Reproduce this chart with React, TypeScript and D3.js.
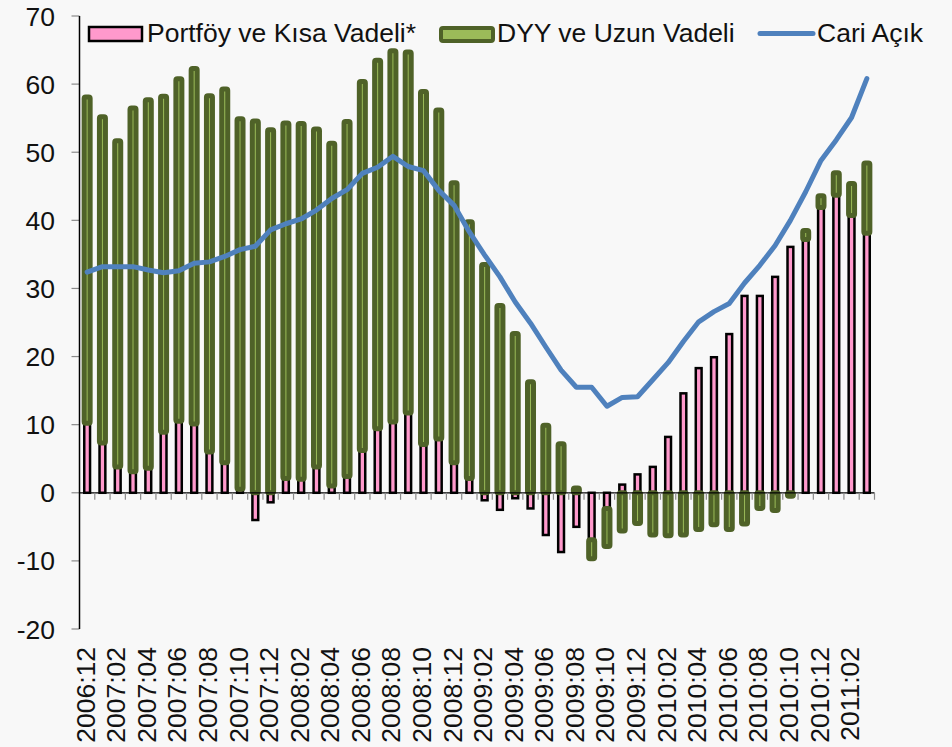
import React, { useMemo } from "react";
import * as d3 from "d3";

// months shown on the category axis (label on every second one)
const months = [
  "2006:12",
  "2007:01", "2007:02", "2007:03", "2007:04", "2007:05", "2007:06",
  "2007:07", "2007:08", "2007:09", "2007:10", "2007:11", "2007:12",
  "2008:01", "2008:02", "2008:03", "2008:04", "2008:05", "2008:06",
  "2008:07", "2008:08", "2008:09", "2008:10", "2008:11", "2008:12",
  "2009:01", "2009:02", "2009:03", "2009:04", "2009:05", "2009:06",
  "2009:07", "2009:08", "2009:09", "2009:10", "2009:11", "2009:12",
  "2010:01", "2010:02", "2010:03", "2010:04", "2010:05", "2010:06",
  "2010:07", "2010:08", "2010:09", "2010:10", "2010:11", "2010:12",
  "2011:01", "2011:02", "2011:03",
];

// Portföy ve Kısa Vadeli*
const portfoy = [
  10.2, 7.3, 3.8, 3.1, 3.6, 8.9, 10.5, 10.1, 6.0, 4.4, 0.5, -4.0, -1.4,
  2.1, 2.0, 3.8, 1.0, 2.4, 6.2, 9.4, 10.4, 11.7, 7.1, 7.9, 4.4,
  2.1, -1.1, -2.5, -0.8, -2.3, -6.2, -8.7, -5.0, -6.9, -2.3, 1.2, 2.7,
  3.8, 8.2, 14.6, 18.3, 19.9, 23.3, 28.9, 28.9, 31.7, 36.1, 37.2, 41.9,
  43.7, 40.7, 38.1,
];

// DYY ve Uzun Vadeli
const dyy = [
  47.9, 47.9, 47.9, 53.4, 54.1, 49.3, 50.3, 52.2, 52.3, 54.9, 54.4, 54.6, 53.3,
  52.2, 52.2, 49.6, 50.3, 52.1, 54.2, 54.1, 54.5, 53.0, 51.8, 48.3, 41.1,
  37.7, 33.5, 27.5, 23.4, 16.3, 9.9, 7.2, 0.7, -2.8, -5.6, -5.6, -4.5,
  -6.2, -6.3, -6.2, -5.4, -4.7, -5.4, -4.6, -2.3, -2.6, -0.5, 1.3, 1.7,
  3.3, 4.7, 10.3,
];

// Cari Açık
const cariAcik = [
  32.4, 33.2, 33.2, 33.2, 32.7, 32.3, 32.6, 33.7, 33.9, 34.7, 35.7, 36.2, 38.6,
  39.5, 40.2, 41.5, 43.2, 44.5, 46.9, 47.8, 49.4, 47.9, 47.3, 44.4, 42.2,
  38.3, 34.9, 31.7, 28.0, 24.9, 21.4, 18.0, 15.5, 15.5, 12.7, 14.0, 14.1,
  16.6, 19.1, 22.2, 25.1, 26.6, 27.8, 30.8, 33.4, 36.3, 40.0, 44.2, 48.8,
  51.8, 55.1, 60.8,
];

const yTicks = [-20, -10, 0, 10, 20, 30, 40, 50, 60, 70];

const legendLabels = ["Portföy ve Kısa Vadeli*", "DYY ve Uzun Vadeli", "Cari Açık"];

const WIDTH = 952;
const HEIGHT = 747;
const FONT = "'Liberation Sans', Arial, sans-serif";
const FS = 26.5;
const PINK = "#FF99CC";
const GREEN_LIGHT = "#9BBB59";
const GREEN_DARK = "#4F6228";
const BLUE = "#4F81BD";

interface Row {
  month: string;
  portfoy: number;
  dyy: number;
}

export default function App() {
  const margin = { left: 79.5, right: 77.5, top: 16, bottom: 118 };

  const x = useMemo(
    () =>
      d3
        .scaleBand<string>()
        .domain(months)
        .range([margin.left, WIDTH - margin.right])
        .padding(0),
    []
  );

  const y = useMemo(
    () => d3.scaleLinear().domain([-20, 70]).range([HEIGHT - margin.bottom, margin.top]),
    []
  );

  const rows: Row[] = months.map((m, i) => ({ month: m, portfoy: portfoy[i], dyy: dyy[i] }));

  const series = d3
    .stack<Row>()
    .keys(["portfoy", "dyy"])
    .offset(d3.stackOffsetDiverging)(rows);

  const line = d3
    .line<number>()
    .x((_, i) => (x(months[i]) ?? 0) + x.bandwidth() / 2)
    .y((d) => y(d));

  const bw = x.bandwidth();
  const x0 = margin.left;
  const x1 = WIDTH - margin.right;

  return (
    <svg
      width={WIDTH}
      height={HEIGHT}
      style={{ position: "absolute", left: 0, top: 0, background: "#F8F8F8" }}
      fontFamily={FONT}
    >
      <rect x={0} y={0} width={WIDTH} height={HEIGHT} fill="#F8F8F8" />

      {/* y axis ticks and labels */}
      <g>
        {yTicks.map((t) => (
          <g key={t}>
            <line x1={x0 - 8} x2={x0} y1={y(t)} y2={y(t)} stroke="#8a8a8a" strokeWidth={1.2} />
            <text x={55} y={y(t)} dy="0.36em" textAnchor="end" fontSize={FS} fill="#111">
              {t}
            </text>
          </g>
        ))}
      </g>

      {/* bars: pink first, green on top of it */}
      <g>
        {series[0].map((d, i) => (
          <rect
            key={"p" + i}
            x={(x(months[i]) ?? 0) + bw / 2 - 2.9}
            width={5.8}
            y={y(Math.max(d[0], d[1]))}
            height={Math.abs(y(d[0]) - y(d[1]))}
            fill={PINK}
            stroke="#000"
            strokeWidth={2.5}
          />
        ))}
      </g>
      <g>
        {series[1].map((d, i) => {
          const top = y(Math.max(d[0], d[1]));
          const h = Math.abs(y(d[0]) - y(d[1]));
          return (
            <rect
              key={"g" + i}
              x={(x(months[i]) ?? 0) + bw / 2 - 3}
              width={6}
              y={top}
              height={h}
              rx={1.5}
              fill={GREEN_LIGHT}
              stroke={GREEN_DARK}
              strokeWidth={5}
              strokeLinejoin="round"
            />
          );
        })}
      </g>

      {/* zero line with small category ticks */}
      <line x1={x0} x2={x1} y1={y(0)} y2={y(0)} stroke="#000" strokeWidth={1.3} />
      <g>
        {months.map((m, i) => (
          <line
            key={"t" + i}
            x1={(x(m) ?? 0) + bw}
            x2={(x(m) ?? 0) + bw}
            y1={y(0)}
            y2={y(0) + 7}
            stroke="#8a8a8a"
            strokeWidth={1.2}
          />
        ))}
      </g>

      {/* y axis line */}
      <line x1={x0} x2={x0} y1={y(70)} y2={y(-20)} stroke="#000" strokeWidth={1.5} />

      {/* current account line */}
      <path
        d={line(cariAcik) || ""}
        fill="none"
        stroke={BLUE}
        strokeWidth={5}
        strokeLinejoin="round"
        strokeLinecap="round"
      />

      {/* x labels, every second month */}
      <g>
        {months.map((m, i) => {
          if (i % 2 !== 0) return null;
          const cx = (x(m) ?? 0) + bw / 2 - 2;
          return (
            <text
              key={"l" + m}
              transform={`translate(${cx}, 647) rotate(-90)`}
              textAnchor="end"
              dy="0.36em"
              fontSize={FS}
              fill="#111"
            >
              {m}
            </text>
          );
        })}
      </g>

      {/* legend */}
      <g fontSize={FS} fill="#111">
        <rect x={89} y={27} width={53} height={14} fill={PINK} stroke="#000" strokeWidth={2.5} />
        <text x={147} y={42}>{legendLabels[0]}</text>
        <rect
          x={441}
          y={28}
          width={52}
          height={13}
          rx={2}
          fill={GREEN_LIGHT}
          stroke={GREEN_DARK}
          strokeWidth={4}
        />
        <text x={497} y={42}>{legendLabels[1]}</text>
        <line x1={760} x2={813} y1={33.5} y2={33.5} stroke={BLUE} strokeWidth={5} strokeLinecap="round" />
        <text x={817} y={42}>{legendLabels[2]}</text>
      </g>
    </svg>
  );
}
